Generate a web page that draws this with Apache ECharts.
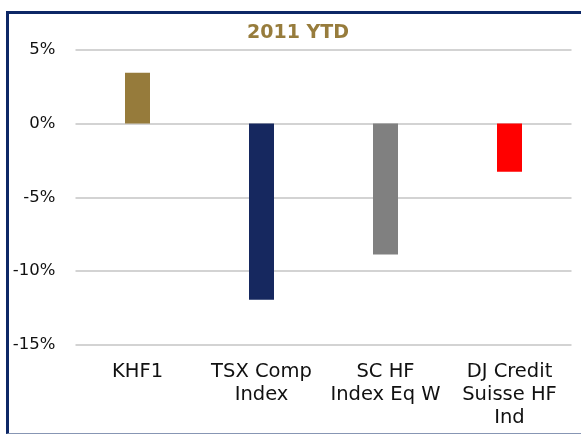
<!DOCTYPE html>
<html>
<head>
<meta charset="utf-8">
<script src="https://cdn.jsdelivr.net/npm/echarts@6/dist/echarts.min.js"></script>
<style>
  html, body { margin: 0; padding: 0; background: #fff; }
  #frame {
    position: absolute; left: 6px; top: 11px; width: 600px; height: 419px;
    border-left: 3px solid #0d2766; border-top: 3px solid #0d2766;
    border-bottom: 1px solid #8796b4;
  }
  #main { position: absolute; left: 0; top: 0; width: 581px; height: 434px; }
</style>
</head>
<body>
<div id="frame"></div>
<div id="main"></div>
<script>
const categories = ["KHF1", "TSX Comp\nIndex", "SC HF\nIndex Eq W", "DJ Credit\nSuisse HF\nInd"];
const ytdValues = [3.42, -11.94, -8.88, -3.27];
const barColors = ["#967b3b", "#16285f", "#808080", "#ff0000"];
const yTicks = { min: -15, max: 5, interval: 5 };

const chartDom = document.getElementById("main");
const myChart = echarts.init(chartDom);

const option = {
  animation: false,
  title: {
    text: "2011 YTD",
    left: 247,
    top: 24,
    padding: 0,
    textStyle: {
      fontFamily: "DejaVu Sans",
      fontSize: 19,
      fontWeight: "bold",
      color: "#977c3c",
    },
  },
  grid: {
    left: 75.5,
    right: 9.5,
    top: 49.5,
    bottom: 89,
  },
  xAxis: {
    type: "category",
    data: categories,
    axisLine: { show: false, onZero: false },
    axisTick: { show: false },
    axisLabel: {
      interval: 0,
      margin: 15,
      fontFamily: "DejaVu Sans",
      fontSize: 19.5,
      lineHeight: 23,
      color: "#111",
      align: "center",
    },
  },
  yAxis: {
    type: "value",
    min: yTicks.min,
    max: yTicks.max,
    interval: yTicks.interval,
    axisLine: { show: false },
    axisTick: { show: false },
    splitLine: { lineStyle: { color: "#c4c4c4", width: 1.5 } },
    axisLabel: {
      margin: 20,
      fontFamily: "DejaVu Sans",
      fontSize: 16.5,
      color: "#111",
      formatter: "{value}%",
    },
  },
  series: [
    {
      type: "bar",
      barWidth: 25,
      data: ytdValues.map((v, i) => ({ value: v, itemStyle: { color: barColors[i] } })),
    },
  ],
};
myChart.setOption(option);
</script>
</body>
</html>
